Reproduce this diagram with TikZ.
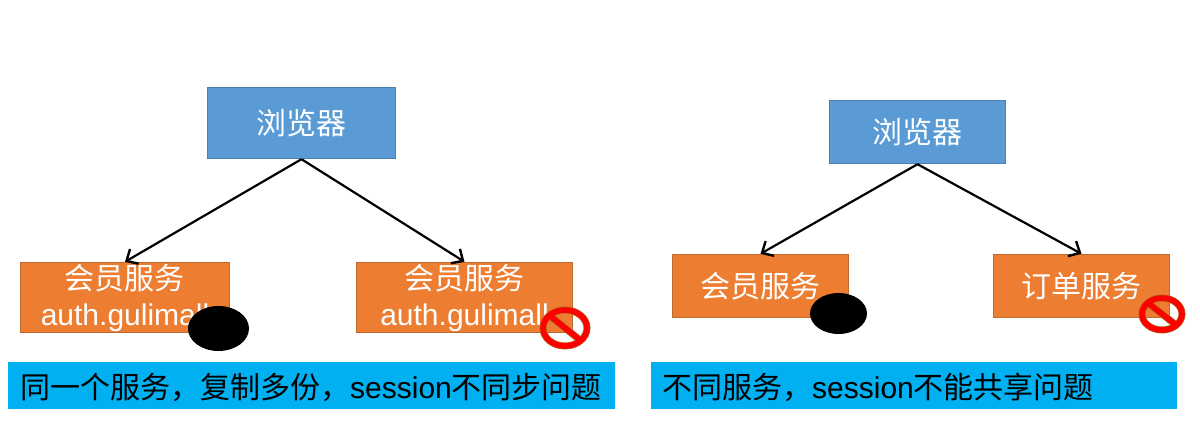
\documentclass[tikz,border=0pt]{standalone}
\usepackage{fontspec}
\setmainfont{Liberation Sans}
\newfontfamily\cjk{Noto Sans CJK SC}
\usetikzlibrary{arrows.meta,shapes.geometric}
\definecolor{boxblue}{HTML}{5B9BD5}
\definecolor{boxblueline}{HTML}{4A7FAE}
\definecolor{boxorange}{HTML}{ED7D31}
\definecolor{boxorangeline}{HTML}{BC6A30}
\definecolor{bandblue}{HTML}{00B0F0}
\definecolor{signred}{HTML}{FF0000}
\definecolor{signline}{HTML}{B5651D}
\tikzset{
  browserbox/.style={draw=boxblueline, line width=1.4pt, fill=boxblue, text=white, inner sep=0pt, align=center},
  servicebox/.style={draw=boxorangeline, line width=1.4pt, fill=boxorange, text=white, inner sep=0pt, align=center},
  band/.style={fill=bandblue, text=black, inner sep=0pt, text depth=0pt, minimum height=47pt, anchor=west},
  blackspot/.style={ellipse, fill=black, inner sep=0pt},
  arrowline/.style={-{Straight Barb[length=9pt,width=17pt,line width=2.4pt]}, line width=2.2pt, black}
}
\begin{document}
\begin{tikzpicture}[x=1pt, y=-1pt, every node/.style={font=\fontsize{30}{36}\selectfont}]
\useasboundingbox (0,0) rectangle (1200,431);
% Draw the left group
\node[browserbox, minimum width=188pt, minimum height=71pt] (browserA) at (301.5,123) {\cjk 浏览器};
\node[servicebox, minimum width=209pt, minimum height=70pt] (memberA) at (125,297.5) {{\cjk 会员服务}\\auth.gulimall};
\node[servicebox, minimum width=216pt, minimum height=70pt] (memberB) at (464.5,297.5) {{\cjk 会员服务}\\auth.gulimall};
% Draw the right group
\node[browserbox, minimum width=176pt, minimum height=63pt] (browserB) at (917.5,132) {\cjk 浏览器};
\node[servicebox, minimum width=176pt, minimum height=63pt] (memberC) at (760.5,286) {\cjk 会员服务};
\node[servicebox, minimum width=176pt, minimum height=63pt] (order) at (1081.5,286) {\cjk 订单服务};

% Draw arrows
\draw[arrowline] (browserA.south) -- (memberA.north);
\draw[arrowline] (browserA.south) -- (memberB.north);
\draw[arrowline] (browserB.south) -- (memberC.north);
\draw[arrowline] (browserB.south) -- (order.north);

% Draw the black spots
\node[blackspot, minimum width=61pt, minimum height=45pt] (spotA) at (218.5,328.5) {};
\node[blackspot, minimum width=57pt, minimum height=41pt] (spotB) at (838.5,313.5) {};

% Draw the no signs
\draw[signline, line width=7pt] (565,328) ellipse (22pt and 18pt);
\draw[signline, line width=7pt] (549.5,315.5) -- (580.5,340.5);
\draw[signred, line width=5.5pt] (565,328) ellipse (22pt and 18pt);
\draw[signred, line width=5.5pt] (549.5,315.5) -- (580.5,340.5);
\draw[signline, line width=7pt] (1162,314) ellipse (20pt and 16pt);
\draw[signline, line width=7pt] (1148,303) -- (1176,325);
\draw[signred, line width=5.5pt] (1162,314) ellipse (20pt and 16pt);
\draw[signred, line width=5.5pt] (1148,303) -- (1176,325);

% Draw the captions
\node[band, minimum width=607pt, text width=583pt, align=left] (captionA) at (8,385.5) {\cjk 同一个服务，复制多份，{\rmfamily session}不同步问题};
\node[band, minimum width=526pt, text width=504pt, align=left] (captionB) at (651,385.5) {\cjk 不同服务，{\rmfamily session}不能共享问题};
\end{tikzpicture}
\end{document}
